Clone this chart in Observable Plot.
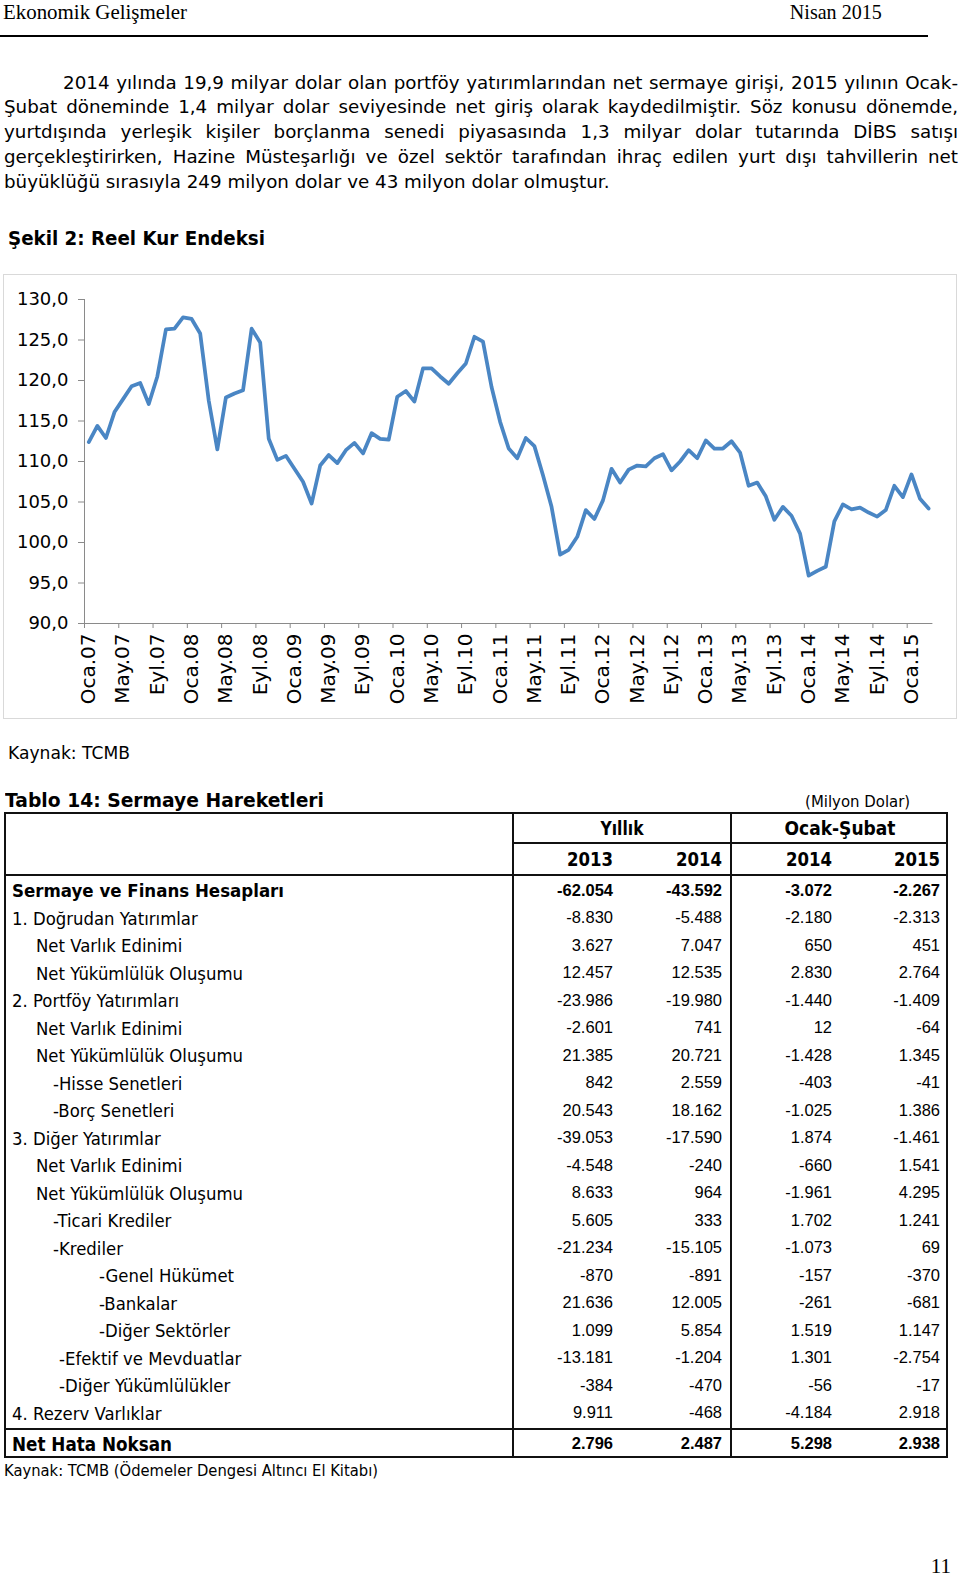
<!DOCTYPE html>
<html>
<head>
<meta charset="utf-8">
<script src="https://cdn.jsdelivr.net/npm/d3@7"></script>
<script src="https://cdn.jsdelivr.net/npm/@observablehq/plot@0.6"></script>
<style>
  html, body { margin: 0; padding: 0; background: #fff; }
  #page { position: relative; width: 960px; height: 1589px; overflow: hidden; color: #000; }
  #page div { box-sizing: border-box; }
</style>
</head>
<body>
<div id="page"></div>
<script>
// ---------------- DATA ----------------
// Reel Kur Endeksi, monthly, Ocak 2007 - Mart 2015
const reelKur = [
  112.4, 114.4, 112.9, 116.1, 117.7, 119.3, 119.7, 117.1, 120.5, 126.3, 126.4, 127.8,
  127.6, 125.8, 117.5, 111.5, 117.9, 118.4, 118.8, 126.4, 124.7, 112.8, 110.2, 110.7,
  109.1, 107.5, 104.8, 109.5, 110.8, 109.8, 111.4, 112.3, 111.0, 113.5, 112.8, 112.7,
  118.0, 118.7, 117.4, 121.5, 121.5, 120.5, 119.6, 120.9, 122.1, 125.4, 124.8, 119.2,
  114.9, 111.6, 110.4, 112.9, 111.9, 108.3, 104.4, 98.5, 99.1, 100.7, 104.0, 102.9,
  105.2, 109.1, 107.4, 109.0, 109.5, 109.4, 110.4, 110.9, 108.9, 110.0, 111.4, 110.4,
  112.6, 111.6, 111.6, 112.5, 111.1, 107.0, 107.4, 105.7, 102.8, 104.4, 103.3, 101.1,
  95.9, 96.5, 97.0, 102.6, 104.7, 104.1, 104.3, 103.7, 103.2, 104.0, 107.0, 105.6,
  108.4, 105.4, 104.2
];
const tickLabels = [
  "Oca.07","May.07","Eyl.07","Oca.08","May.08","Eyl.08","Oca.09","May.09","Eyl.09",
  "Oca.10","May.10","Eyl.10","Oca.11","May.11","Eyl.11","Oca.12","May.12","Eyl.12",
  "Oca.13","May.13","Eyl.13","Oca.14","May.14","Eyl.14","Oca.15"
];
const yTicks = [90, 95, 100, 105, 110, 115, 120, 125, 130];

const paragraphLines = [
  "2014 yılında 19,9 milyar dolar olan portföy yatırımlarından net sermaye girişi, 2015 yılının Ocak-",
  "Şubat döneminde 1,4 milyar dolar seviyesinde net giriş olarak kaydedilmiştir. Söz konusu dönemde,",
  "yurtdışında yerleşik kişiler borçlanma senedi piyasasında 1,3 milyar dolar tutarında DİBS satışı",
  "gerçekleştirirken, Hazine Müsteşarlığı ve özel sektör tarafından ihraç edilen yurt dışı tahvillerin net",
  "büyüklüğü sırasıyla 249 milyon dolar ve 43 milyon dolar olmuştur."
];

const rowLabels = [
  "Sermaye ve Finans Hesapları","1. Doğrudan Yatırımlar","Net Varlık Edinimi","Net Yükümlülük Oluşumu",
  "2. Portföy Yatırımları","Net Varlık Edinimi","Net Yükümlülük Oluşumu","-Hisse Senetleri","-Borç Senetleri",
  "3. Diğer Yatırımlar","Net Varlık Edinimi","Net Yükümlülük Oluşumu","-Ticari Krediler","-Krediler",
  "-Genel Hükümet","-Bankalar","-Diğer Sektörler","-Efektif ve Mevduatlar","-Diğer Yükümlülükler",
  "4. Rezerv Varlıklar","Net Hata Noksan"
];
const rowLevels = ["a","a","b","b","a","b","b","c","c","a","b","b","c","c","d","d","d","e","e","a","a"];
const v2013 = [-62054,-8830,3627,12457,-23986,-2601,21385,842,20543,-39053,-4548,8633,5605,-21234,-870,21636,1099,-13181,-384,9911,2796];
const v2014 = [-43592,-5488,7047,12535,-19980,741,20721,2559,18162,-17590,-240,964,333,-15105,-891,12005,5854,-1204,-470,-468,2487];
const o2014 = [-3072,-2180,650,2830,-1440,12,-1428,-403,-1025,1874,-660,-1961,1702,-1073,-157,-261,1519,1301,-56,-4184,5298];
const o2015 = [-2267,-2313,451,2764,-1409,-64,1345,-41,1386,-1461,1541,4295,1241,69,-370,-681,1147,-2754,-17,2918,2938];
const yearHeaders = ["2013","2014","2014","2015"];
const groupHeaders = ["Yıllık","Ocak-Şubat"];

// ---------------- HELPERS ----------------
const SANS = '"DejaVu Sans", Verdana, sans-serif';
const ARIAL = '"Liberation Sans", Arial, sans-serif';
const SERIF = '"Liberation Serif", "Times New Roman", serif';
const page = document.getElementById("page");
const ctx = document.createElement("canvas").getContext("2d");
function tw(text, size, weight, family) {
  ctx.font = `${weight} ${size}px ${family}`;
  return ctx.measureText(text).width;
}
// put text with vertical centre at y; if w is given, squeeze/stretch horizontally to width w
function put(text, o) {
  const {x, y, size = 16, weight = "normal", family = SANS, anchor = "start", w = null, sx = null} = o;
  const fs = size;
  let s = 1;
  if (w) s = w / tw(text, fs, weight, family);
  else if (sx) s = sx;
  const el = document.createElement("div");
  el.textContent = text;
  Object.assign(el.style, {
    position: "absolute", top: (y - fs / 2) + "px", lineHeight: fs + "px", height: fs + "px",
    fontSize: fs + "px", fontWeight: weight, fontFamily: family, whiteSpace: "pre"
  });
  if (anchor === "start") {
    el.style.left = x + "px";
    el.style.transformOrigin = "0 50%";
    if (s !== 1) el.style.transform = `scaleX(${s})`;
  } else if (anchor === "end") {
    el.style.right = (960 - x) + "px";
    el.style.transformOrigin = "100% 50%";
    if (s !== 1) el.style.transform = `scaleX(${s})`;
  } else {
    el.style.left = x + "px";
    el.style.transformOrigin = "50% 50%";
    el.style.transform = `translateX(-50%) scaleX(${s})`;
  }
  page.appendChild(el);
  return el;
}
function justifyLine(text, x0, x1, y, size) {
  const natural = tw(text, size, "normal", SANS);
  const spaces = (text.match(/ /g) || []).length;
  const target = x1 - x0;
  if (natural <= target) {
    const el = put(text, {x: x0, y, size});
    el.style.wordSpacing = ((target - natural) / spaces) + "px";
  } else {
    put(text, {x: x0, y, size, w: target});
  }
}
function box(x, y, w, h, bg) {
  const el = document.createElement("div");
  Object.assign(el.style, {position: "absolute", left: x + "px", top: y + "px", width: w + "px", height: h + "px", background: bg});
  page.appendChild(el);
  return el;
}

// ---------------- PAGE HEADER ----------------
put("Ekonomik Gelişmeler", {x: 3, y: 12, size: 22, family: SERIF, w: 184});
put("Nisan 2015", {x: 882, y: 12, size: 22, family: SERIF, anchor: "end", w: 92});
box(0, 35, 928, 2, "#000");

// ---------------- PARAGRAPH ----------------
const paraY = [83, 107.5, 132.5, 157, 182];
const paraSize = 18.3;
paragraphLines.forEach((t, i) => {
  if (i < 4) justifyLine(t, i === 0 ? 63 : 4, 958, paraY[i], paraSize);
  else put(t, {x: 4, y: paraY[i], size: paraSize});
});

// ---------------- CHART ----------------
put("Şekil 2: Reel Kur Endeksi", {x: 8, y: 239, size: 19.5, weight: "bold", w: 257});

const frame = box(3, 274, 954, 445, "transparent");
frame.style.border = "1.5px solid #d9d9d9";

const fmtY = d => d3.format(".1f")(d).replace(".", ",");
const chart = Plot.plot({
  width: 960,
  height: 443,
  marginLeft: 84,
  marginRight: 27.6,
  marginTop: 24,
  marginBottom: 95,
  style: {fontFamily: SANS, fontSize: "18px", background: "transparent", color: "#000", overflow: "visible"},
  x: {domain: [-0.5, 98.5]},
  y: {domain: [90, 130]},
  marks: [
    Plot.ruleX([-0.5], {y1: 90, y2: 130, stroke: "#8a8a8a", strokeWidth: 1}),
    Plot.ruleY([90], {x1: -0.5, x2: 98.5, stroke: "#8a8a8a", strokeWidth: 1}),
    Plot.axisY({ticks: yTicks, tickFormat: fmtY, tickSize: 6, tickPadding: 10, fontSize: 18, stroke: "#8a8a8a", fill: "#000", label: null}),
    Plot.axisX({ticks: d3.range(-0.5, 99, 4), tickSize: 5, tickFormat: () => "", stroke: "#8a8a8a", label: null}),
    Plot.axisX({ticks: d3.range(0, 97, 4), tickFormat: d => tickLabels[Math.round(d / 4)], tickRotate: -90, tickSize: 0, tickPadding: 10, fontSize: 20, fill: "#000", label: null}),
    Plot.line(reelKur, {x: (d, i) => i, y: d => d, stroke: "#4a86c4", strokeWidth: 3.75, strokeLinejoin: "round"})
  ]
});
const chartWrap = document.createElement("div");
Object.assign(chartWrap.style, {position: "absolute", left: "0px", top: "275px", width: "960px", height: "443px"});
chartWrap.appendChild(chart);
page.appendChild(chartWrap);

put("Kaynak: TCMB", {x: 8, y: 753, size: 18, w: 122});

// ---------------- TABLE ----------------
put("Tablo 14: Sermaye Hareketleri", {x: 5, y: 800, size: 20, weight: "bold", w: 319});
put("(Milyon Dolar)", {x: 910, y: 802, size: 16.5, anchor: "end", w: 105});

const T = {left: 4, right: 948, top: 812, mid: 842, hdr: 874, net: 1428, bottom: 1458, c1: 512, c2: 730};
const lw = 1.6;
box(T.left, T.top, T.right - T.left, lw, "#111");
box(T.left, T.bottom - lw, T.right - T.left, lw, "#111");
box(T.left, T.top, 2, T.bottom - T.top, "#111");
box(T.right - 2, T.top, 2, T.bottom - T.top, "#111");
box(T.c1, T.top, lw, T.bottom - T.top, "#111");
box(T.c2, T.top, lw, T.bottom - T.top, "#111");
box(T.c1, T.mid, T.right - T.c1, lw, "#111");
box(T.left, T.hdr, T.right - T.left, lw, "#111");
box(T.left, T.net, T.right - T.left, lw, "#111");

put(groupHeaders[0], {x: 621.5, y: 828, size: 19, weight: "bold", anchor: "middle", w: 43});
put(groupHeaders[1], {x: 839.5, y: 828, size: 19, weight: "bold", anchor: "middle", w: 111});
const colRight = [613, 722, 832, 940];
yearHeaders.forEach((t, j) => put(t, {x: colRight[j], y: 859, size: 19, weight: "bold", anchor: "end", w: 46}));

const trLocale = d3.formatLocale({decimal: ",", thousands: ".", grouping: [3], currency: ["", ""], minus: "-"});
const fmtV = trLocale.format(",d");
const indent = {a: 12, b: 36, c: 53, d: 99, e: 59};
const cols = [v2013, v2014, o2014, o2015];
rowLabels.forEach((label, i) => {
  const last = i === rowLabels.length - 1;
  const y = last ? 1443 : 890 + i * 27.5;
  const bold = i === 0 || last;
  if (i === 0) put(label, {x: indent[rowLevels[i]], y: y + 1, size: 18, weight: "bold", w: 272});
  else if (last) put(label, {x: indent[rowLevels[i]], y: y + 1, size: 20, weight: "bold", w: 160});
  else put(label, {x: indent[rowLevels[i]], y: y + 1, size: 18, sx: 16.5 / 18});
  cols.forEach((col, j) => {
    put(fmtV(col[i]), {x: colRight[j], y, size: 16.5, family: ARIAL, weight: bold ? "bold" : "normal", anchor: "end"});
  });
});

put("Kaynak: TCMB (Ödemeler Dengesi Altıncı El Kitabı)", {x: 4, y: 1471, size: 16.5, w: 374});

// ---------------- PAGE NUMBER ----------------
put("11", {x: 951, y: 1566, size: 21, family: SERIF, anchor: "end"});
</script>
</body>
</html>
